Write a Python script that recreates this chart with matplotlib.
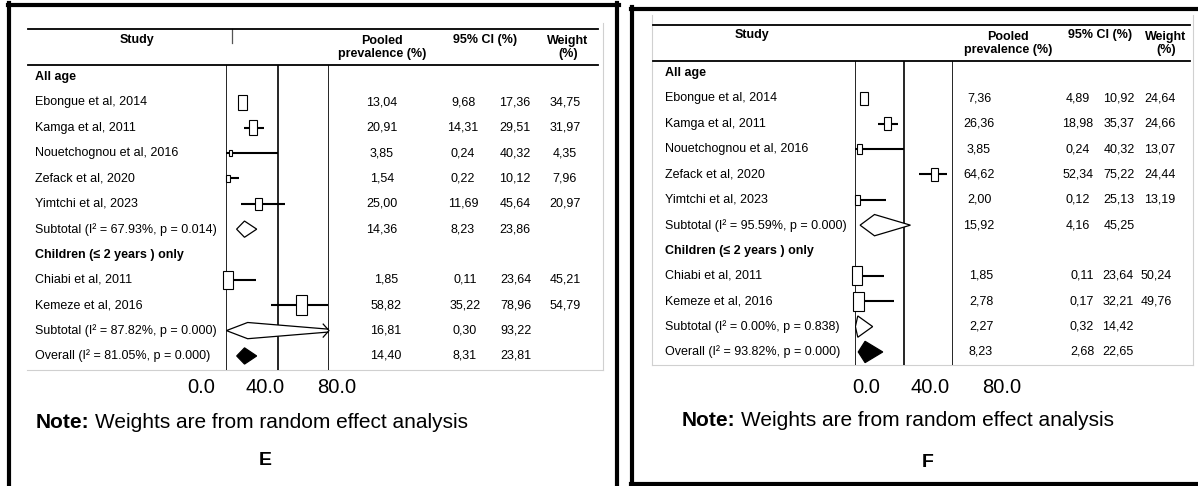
import matplotlib
matplotlib.use("Agg")
import matplotlib.pyplot as plt
from matplotlib import transforms, font_manager
from matplotlib.patches import Rectangle, Polygon
import numpy as np

W, H = 1198, 486

# ---- data -------------------------------------------------------------
group_names = ["All age", "Children (\u2264 2 years ) only"]
all_age_studies = ["Ebongue et al, 2014", "Kamga et al, 2011", "Nouetchognou et al, 2016",
                   "Zefack et al, 2020", "Yimtchi et al, 2023"]
children_studies = ["Chiabi et al, 2011", "Kemeze et al, 2016"]

# panel E
e_all_est = [13.04, 20.91, 3.85, 1.54, 25.00]
e_all_lo = [9.68, 14.31, 0.24, 0.22, 11.69]
e_all_hi = [17.36, 29.51, 40.32, 10.12, 45.64]
e_all_wt = [34.75, 31.97, 4.35, 7.96, 20.97]
e_child_est = [1.85, 58.82]
e_child_lo = [0.11, 35.22]
e_child_hi = [23.64, 78.96]
e_child_wt = [45.21, 54.79]
e_sub_all = [14.36, 8.23, 23.86]
e_sub_child = [16.81, 0.30, 93.22]
e_overall = [14.40, 8.31, 23.81]
e_labels = ["Subtotal (I\u00b2 = 67.93%, p = 0.014)", "Subtotal (I\u00b2 = 87.82%, p = 0.000)",
            "Overall (I\u00b2 = 81.05%, p = 0.000)"]

# panel F
f_all_est = [7.36, 26.36, 3.85, 64.62, 2.00]
f_all_lo = [4.89, 18.98, 0.24, 52.34, 0.12]
f_all_hi = [10.92, 35.37, 40.32, 75.22, 25.13]
f_all_wt = [24.64, 24.66, 13.07, 24.44, 13.19]
f_child_est = [1.85, 2.78]
f_child_lo = [0.11, 0.17]
f_child_hi = [23.64, 32.21]
f_child_wt = [50.24, 49.76]
f_sub_all = [15.92, 4.16, 45.25]
f_sub_child = [2.27, 0.32, 14.42]
f_overall = [8.23, 2.68, 22.65]
f_labels = ["Subtotal (I\u00b2 = 95.59%, p = 0.000)", "Subtotal (I\u00b2 = 0.00%, p = 0.838)",
            "Overall (I\u00b2 = 93.82%, p = 0.000)"]

tick_labels = ["0.0", "40.0", "80.0"]
ref_lines = [0, 40, 80]
panel_letters = ["E", "F"]
note_text = "Weights are from random effect analysis"

# ---- fonts ------------------------------------------------------------
names = {f.name for f in font_manager.fontManager.ttflist}
if "Liberation Sans Narrow" in names:
    NARROW, TSIZE = "Liberation Sans Narrow", 11
else:
    NARROW, TSIZE = "Liberation Sans", 9
plt.rcParams["font.family"] = [NARROW, "DejaVu Sans"]
SANS = ["Liberation Sans", "DejaVu Sans"]


def fmt(v):
    return f"{v:.2f}".replace(".", ",")


def hline(bg, x0, x1, y, **kw):
    bg.plot([x0, x1], [y, y], **kw)


def vline(bg, x, y0, y1, **kw):
    bg.plot([x, x], [y0, y1], **kw)


def draw_panel(fig, bg, lay, groups, overall, overall_label, letter):
    x0, x80 = lay["x0"], lay["x80"]
    rowh = lay["rowh"]
    ax = fig.add_axes([x0 / W, 1 - lay["ybot"] / H, (x80 - x0) / W,
                       (lay["ybot"] - lay["ytop"]) / H])
    ax.set_xlim(0, 80)
    ax.set_ylim((lay["ybot"] - lay["yfirst"]) / rowh, (lay["ytop"] - lay["yfirst"]) / rowh)
    ax.axis("off")
    for v in ref_lines:
        ax.axvline(v, color="black", lw=1.2, zorder=1)
    pxx = (x80 - x0) / 80.0
    blend = transforms.blended_transform_factory(bg.transData, ax.transData)
    dh = lay["dh"]

    def values(row, vals, cols):
        for v, c in zip(vals, cols):
            bg.text(c, row, fmt(v), transform=blend, ha="center", va="center", fontsize=TSIZE)

    def diamond(row, est, lo, hi, filled):
        poly = Polygon([(lo, row), (est, row - dh), (hi, row), (est, row + dh)], closed=True,
                       facecolor="black" if filled else "white", edgecolor="black",
                       lw=0.9, zorder=3)
        ax.add_patch(poly)
        if hi > 80:
            ax.plot([75.5, 80, 75.5], [row - dh * 0.8, row, row + dh * 0.8],
                    color="black", lw=0.9, clip_on=False, zorder=4)

    row = 0
    for gi, g in enumerate(groups):
        cols = lay["cols"][gi]
        bg.text(lay["label_x"], row, g["name"], transform=blend, va="center",
                fontsize=TSIZE, fontweight="bold")
        row += 1
        for name, est, lo, hi, wt in zip(g["studies"], g["est"], g["lo"], g["hi"], g["wt"]):
            bg.text(lay["label_x"], row, name, transform=blend, va="center", fontsize=TSIZE)
            ax.plot([lo, hi], [row, row], color="black", lw=1.5, solid_capstyle="butt",
                    zorder=2, clip_on=False)
            hpx = 2.65 * np.sqrt(wt)
            wpx = 0.55 * hpx
            ax.add_patch(Rectangle((est - wpx / pxx / 2, row - hpx / rowh / 2),
                                   wpx / pxx, hpx / rowh, facecolor="white",
                                   edgecolor="black", lw=0.8, zorder=3, clip_on=False))
            values(row, [est, lo, hi, wt], cols)
            row += 1
        est, lo, hi = g["sub"]
        bg.text(lay["label_x"], row, g["sub_label"], transform=blend, va="center", fontsize=TSIZE)
        diamond(row, est, lo, hi, False)
        values(row, [est, lo, hi], cols)
        row += 1
    est, lo, hi = overall
    bg.text(lay["label_x"], row, overall_label, transform=blend, va="center", fontsize=TSIZE)
    diamond(row, est, lo, hi, True)
    values(row, [est, lo, hi], lay["cols"][-1])

    # header
    hx0, hx1 = lay["head_x"]
    for y in lay["head_y"]:
        hline(bg, hx0, hx1, y, color="black", lw=1.3)
    hy1, hy2 = lay["head_row_y"]
    hmid = (hy1 + hy2) / 2
    bg.text(lay["study_x"], hy1, "Study", ha="center", va="center", fontsize=TSIZE, fontweight="bold")
    bg.text(lay["pooled_x"], hmid, "Pooled\nprevalence (%)", ha="center", va="center",
            fontsize=TSIZE, fontweight="bold", linespacing=1.15)
    bg.text(lay["ci_x"], hy1, "95% CI (%)", ha="center", va="center", fontsize=TSIZE, fontweight="bold")
    bg.text(lay["wt_x"], hmid, "Weight\n(%)", ha="center", va="center", fontsize=TSIZE,
            fontweight="bold", linespacing=1.15)

    # axis labels, note, panel letter
    for tx, tl in zip(lay["tick_x"], tick_labels):
        bg.text(tx, lay["tick_y"], tl, ha="center", va="center", fontsize=14.5, family=SANS)
    bg.text(lay["note_x"], lay["note_y"], "Note:", va="center", fontsize=15,
            fontweight="bold", family=SANS)
    bg.text(lay["note_x"] + 59, lay["note_y"], note_text, va="center", fontsize=15, family=SANS)
    bg.text(lay["letter_x"], lay["letter_y"], letter, ha="center", va="center", fontsize=14,
            fontweight="bold", family=SANS)


fig = plt.figure(figsize=(W / 100, H / 100), dpi=100)
bg = fig.add_axes([0, 0, 1, 1])
bg.set_xlim(0, W)
bg.set_ylim(H, 0)
bg.axis("off")

# panel frames
gray = "#d0d0d0"
vline(bg, 9, 3, H, color="black", lw=3)
hline(bg, 7.5, 618.5, 5, color="black", lw=3)
vline(bg, 617, 3, H, color="black", lw=3)
vline(bg, 603, 23, 370, color=gray, lw=0.8)
hline(bg, 27, 603, 370, color=gray, lw=0.8)
vline(bg, 232, 29, 43, color="#555555", lw=0.9)

vline(bg, 632, 7.5, H, color="black", lw=3)
hline(bg, 630.5, W, 9, color="black", lw=3)
hline(bg, 630.5, W, 484, color="black", lw=3)
vline(bg, 652, 15, 365, color=gray, lw=0.8)
vline(bg, 1193, 15, 365, color=gray, lw=0.8)
hline(bg, 652, 1193, 365, color=gray, lw=0.8)

lay_e = dict(x0=226, x80=329, ytop=65, ybot=370, yfirst=77, rowh=25.36, label_x=35, dh=0.32,
             cols=[(382, 463, 515, 565), (386, 465, 516, 565)],
             head_y=(29, 65), head_x=(28, 598), head_row_y=(40, 55),
             study_x=137, pooled_x=382, ci_x=485, wt_x=568,
             tick_x=(201, 265, 337), tick_y=387, note_x=36, note_y=422,
             letter_x=265, letter_y=460)
lay_f = dict(x0=855, x80=953, ytop=61, ybot=365, yfirst=73, rowh=25.36, label_x=665, dh=0.42,
             cols=[(979, 1078, 1119, 1160), (981, 1082, 1118, 1156)],
             head_y=(25, 61), head_x=(653, 1190), head_row_y=(35, 52),
             study_x=752, pooled_x=1008, ci_x=1100, wt_x=1166,
             tick_x=(866, 930, 1002), tick_y=387, note_x=682, note_y=420,
             letter_x=928, letter_y=462)

groups_e = [
    dict(name=group_names[0], studies=all_age_studies, est=e_all_est, lo=e_all_lo, hi=e_all_hi,
         wt=e_all_wt, sub=e_sub_all, sub_label=e_labels[0]),
    dict(name=group_names[1], studies=children_studies, est=e_child_est, lo=e_child_lo,
         hi=e_child_hi, wt=e_child_wt, sub=e_sub_child, sub_label=e_labels[1]),
]
groups_f = [
    dict(name=group_names[0], studies=all_age_studies, est=f_all_est, lo=f_all_lo, hi=f_all_hi,
         wt=f_all_wt, sub=f_sub_all, sub_label=f_labels[0]),
    dict(name=group_names[1], studies=children_studies, est=f_child_est, lo=f_child_lo,
         hi=f_child_hi, wt=f_child_wt, sub=f_sub_child, sub_label=f_labels[1]),
]

draw_panel(fig, bg, lay_e, groups_e, e_overall, e_labels[2], panel_letters[0])
draw_panel(fig, bg, lay_f, groups_f, f_overall, f_labels[2], panel_letters[1])

fig.savefig("out.png", dpi=100)
